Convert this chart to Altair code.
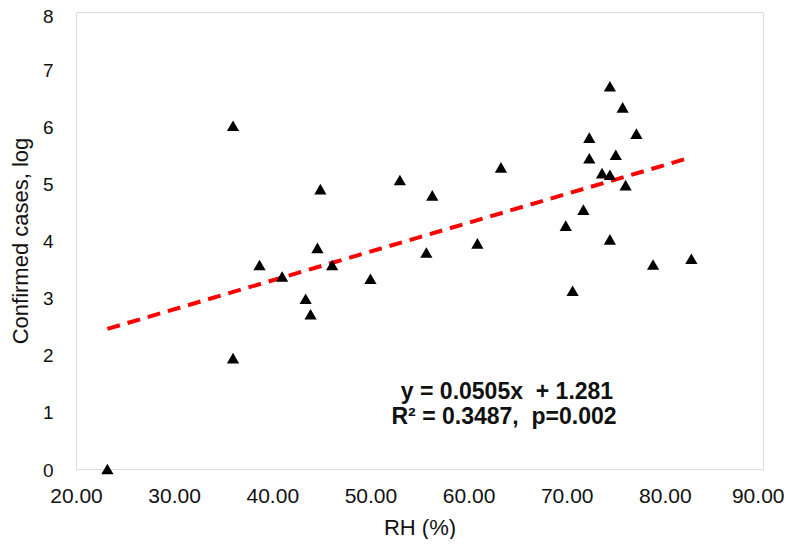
import altair as alt
import pandas as pd

# Relative humidity (%) and log confirmed cases
rh = [23.2, 36.0, 36.0, 38.7, 41.0, 43.4, 43.9, 44.9, 44.6, 46.1, 50.0,
      53.0, 56.3, 55.7, 60.9, 63.3, 69.9, 71.7, 70.6, 72.3, 72.3, 73.6,
      74.4, 74.4, 74.4, 75.0, 75.7, 76.0, 77.1, 78.8, 82.7]
cases_log = [0.0, 6.01, 1.94, 3.57, 3.37, 2.98, 2.71, 4.90, 3.87, 3.57, 3.33,
             5.06, 4.79, 3.79, 3.95, 5.28, 4.26, 4.54, 3.12, 5.80, 5.44, 5.18,
             5.15, 6.70, 4.02, 5.50, 6.33, 4.97, 5.87, 3.58, 3.68]

slope = 0.0505
intercept = 1.281
eq_line1 = "y = 0.0505x\u00a0 + 1.281"
eq_line2 = "R\u00b2 = 0.3487,\u00a0 p=0.002"

x_ticks = [20, 30, 40, 50, 60, 70, 80, 90]
y_ticks = [0, 1, 2, 3, 4, 5, 6, 7, 8]

FONT = "Liberation Sans"

df = pd.DataFrame({"rh": rh, "cases": cases_log})
xmin, xmax = min(rh), max(rh)
trend = pd.DataFrame({"rh": [xmin, xmax],
                      "cases": [slope * xmin + intercept, slope * xmax + intercept]})
ann1 = pd.DataFrame({"t": [eq_line1]})
ann2 = pd.DataFrame({"t": [eq_line2]})

xscale = alt.Scale(domain=[20, 90], nice=False, zero=False)
yscale = alt.Scale(domain=[0, 8], nice=False)

last_x = x_ticks[-1]
last_y = y_ticks[-1]
xaxis = alt.Axis(values=x_ticks, format=".2f", title="RH (%)", grid=False,
                 domain=False, ticks=False, tickSize=0, labelPadding=16,
                 labelFlush=False,
                 labelAlign=alt.ConditionalAxisLabelAlign(
                     condition={"test": f"datum.value == {last_x}", "value": "right"},
                     value="center"),
                 labelOffset=alt.ConditionalAxisNumber(
                     condition={"test": f"datum.value == {last_x}", "value": 21},
                     value=0),
                 labelFont=FONT, labelFontSize=21, labelColor="#111",
                 titleFont=FONT, titleFontSize=22, titleFontWeight="normal",
                 titleColor="#111", titlePadding=11)
yaxis = alt.Axis(values=y_ticks, format="d", title="Confirmed cases, log", grid=False,
                 domain=False, ticks=False, tickSize=0, labelPadding=23,
                 labelFlush=False,
                 labelOffset=alt.ConditionalAxisNumber(
                     condition={"test": f"datum.value == {last_y}", "value": 4},
                     value=1),
                 labelFont=FONT, labelFontSize=19, labelColor="#111",
                 titleFont=FONT, titleFontSize=22, titleFontWeight="normal",
                 titleColor="#111", titlePadding=10)

points = alt.Chart(df).mark_point(shape="triangle-up", filled=True, color="black",
                                  size=150, opacity=1).encode(
    x=alt.X("rh:Q", scale=xscale, axis=xaxis),
    y=alt.Y("cases:Q", scale=yscale, axis=yaxis),
)

line = alt.Chart(trend).mark_line(color="#ff0000", strokeWidth=4,
                                  strokeDash=[13, 8]).encode(
    x=alt.X("rh:Q", scale=xscale, axis=xaxis),
    y=alt.Y("cases:Q", scale=yscale, axis=yaxis),
)

text_style = dict(font=FONT, fontSize=23, fontWeight="bold", color="#111",
                  align="center", baseline="middle")
text1 = alt.Chart(ann1).mark_text(**text_style).encode(
    x=alt.value(431), y=alt.value(380), text="t:N")
text2 = alt.Chart(ann2).mark_text(**text_style).encode(
    x=alt.value(428), y=alt.value(405), text="t:N")

chart = alt.layer(line, points, text1, text2).properties(
    width=687, height=457,
    autosize=alt.AutoSizeParams(type="none"),
    padding={"left": 68, "top": 4, "right": 21, "bottom": 70},
).configure_view(stroke="black", strokeWidth=2).configure(background="white")

chart.save("out.html", embed_options={"renderer": "svg", "actions": False})
